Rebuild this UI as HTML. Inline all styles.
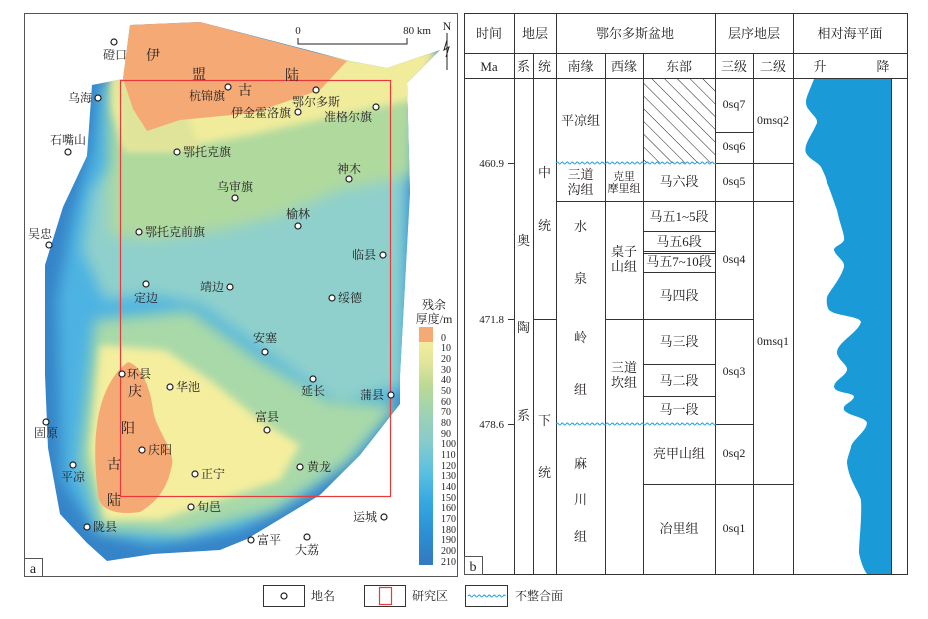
<!DOCTYPE html>
<html><head><meta charset="utf-8"><style>
html,body{margin:0;padding:0;background:#fff;width:928px;height:619px;overflow:hidden}
svg{display:block}
text{font-family:"Liberation Serif","Noto Serif CJK SC",serif;fill:#231f20}
</style></head><body>
<svg width="928" height="619" viewBox="0 0 928 619" xmlns="http://www.w3.org/2000/svg">
<defs>
<filter id="bl" x="-20%" y="-20%" width="140%" height="140%"><feGaussianBlur stdDeviation="7"/></filter>
<filter id="bl2" x="-20%" y="-20%" width="140%" height="140%"><feGaussianBlur stdDeviation="4"/></filter>
<clipPath id="outer"><path d="M92,85 L123,79 L130,25 L200,22 L350,61 L387,68 L440,50 L407,83 L410,192 L400,375 L400,404 L360,455 L320,495 L247,539 L220,550 L153,554 L107,561 L87,543 L60,514 L48,448 L45,375 L45,265 L63,207 L87,156 Z"/></clipPath>
<pattern id="hatch" width="9" height="9" patternUnits="userSpaceOnUse" patternTransform="rotate(-45)"><line x1="0" y1="0" x2="0" y2="9" stroke="#231f20" stroke-width="1"/></pattern>
<linearGradient id="cb" x1="0" y1="0" x2="0" y2="1">
<stop offset="0" stop-color="#f4ee9c"/><stop offset="0.1" stop-color="#dfe49a"/><stop offset="0.2" stop-color="#b8da95"/><stop offset="0.32" stop-color="#9fd2b3"/><stop offset="0.45" stop-color="#86cbcb"/><stop offset="0.58" stop-color="#5cc0e0"/><stop offset="0.72" stop-color="#35a8e0"/><stop offset="0.86" stop-color="#2d8fd2"/><stop offset="1" stop-color="#3478c0"/></linearGradient>
</defs>

<!-- Map frame -->
<rect x="24.5" y="13.5" width="433" height="563" fill="#fff" stroke="#555" stroke-width="1"/>
<g clip-path="url(#outer)">
<rect x="20" y="10" width="440" height="570" fill="#3584c8"/>
<path filter="url(#bl)" d="M100,85 L408,80 L405,385 L360,450 L305,492 L240,530 L150,545 L95,530 L62,480 L57,300 L72,220 L92,150 Z" fill="#4db3e2"/>
<path filter="url(#bl)" d="M108,170 L405,160 L402,385 L340,405 L270,355 L200,305 L150,295 L105,300 L82,250 L92,190 Z" fill="#8fd0cc"/>
<path filter="url(#bl)" d="M95,320 L190,310 L260,360 L330,400 L398,405 L345,465 L275,510 L180,535 L100,530 L80,460 Z" fill="#a9d9a8"/>
<path filter="url(#bl)" d="M108,78 L420,60 L412,175 L340,190 L280,215 L220,230 L150,240 L110,235 Z" fill="#b0d99e"/>
<path filter="url(#bl2)" d="M112,70 L360,55 L440,48 L412,100 L340,115 L250,135 L170,150 L125,150 L112,110 Z" fill="#f1ec9c"/>
<path filter="url(#bl2)" d="M100,345 L165,350 L210,380 L260,420 L300,445 L280,480 L220,500 L160,520 L105,520 L90,450 Z" fill="#f4ee9e"/>
<path filter="url(#bl2)" d="M112,60 L170,60 L200,150 L125,150 Z" fill="#dfe49a"/>
</g>
<path d="M130,25 L200,22 L347,61 L320,90 L253,113 L180,120 L147,131 L133,109 L123,79 Z" fill="#f5aa75"/>
<path d="M128,362 C140,365 150,385 153,410 C156,430 175,450 172,465 C168,485 160,500 140,512 C120,515 100,512 98,495 C95,470 94,445 97,425 C100,400 110,375 128,362 Z" fill="#f5aa75"/>
<!-- study area -->
<rect x="120.5" y="80.5" width="270" height="416" fill="none" stroke="#e8393b" stroke-width="1.2"/>
<!-- scale bar -->
<path d="M298,38 L298,44 L407,44 L407,38" fill="none" stroke="#231f20" stroke-width="1"/>
<text x="298" y="34" font-size="11" text-anchor="middle">0</text>
<text x="417" y="34" font-size="11" text-anchor="middle">80 km</text>
<text x="447" y="30" font-size="12" text-anchor="middle">N</text>
<path d="M447,33 L447,70 M447,40 L444,50 L449,47 L446,57" fill="none" stroke="#231f20" stroke-width="1"/>
<!-- colorbar -->
<rect x="419" y="327" width="14" height="15" fill="#f5aa75"/>
<rect x="419" y="342" width="14" height="223" fill="url(#cb)"/>
<text x="434" y="309" font-size="12" text-anchor="middle">残余</text>
<text x="434" y="323" font-size="12" text-anchor="middle">厚度/m</text>
<g font-size="10">
<text x="441" y="341">0</text><text x="441" y="351">10</text><text x="441" y="362">20</text><text x="441" y="373">30</text><text x="441" y="383">40</text><text x="441" y="394">50</text><text x="441" y="405">60</text><text x="441" y="415">70</text><text x="441" y="426">80</text><text x="441" y="437">90</text><text x="441" y="447">100</text><text x="441" y="458">110</text><text x="441" y="469">120</text><text x="441" y="479">130</text><text x="441" y="490">140</text><text x="441" y="501">150</text><text x="441" y="511">160</text><text x="441" y="522">170</text><text x="441" y="533">180</text><text x="441" y="543">190</text><text x="441" y="554">200</text><text x="441" y="565">210</text>
</g>
<!-- place markers -->
<g fill="#fff" stroke="#231f20" stroke-width="1.2">
<circle cx="114" cy="42" r="3"/><circle cx="228" cy="87" r="3"/><circle cx="316" cy="90" r="3"/><circle cx="298" cy="112" r="3"/><circle cx="376" cy="107" r="3"/><circle cx="98" cy="98" r="3"/><circle cx="68" cy="152" r="3"/><circle cx="177" cy="152" r="3"/><circle cx="349" cy="179" r="3"/><circle cx="235" cy="198" r="3"/><circle cx="298" cy="226" r="3"/><circle cx="139" cy="232" r="3"/><circle cx="49" cy="245" r="3"/><circle cx="383" cy="255" r="3"/><circle cx="146" cy="284" r="3"/><circle cx="230" cy="287" r="3"/><circle cx="332" cy="298" r="3"/><circle cx="265" cy="352" r="3"/><circle cx="122" cy="374" r="3"/><circle cx="170" cy="387" r="3"/><circle cx="313" cy="379" r="3"/><circle cx="391" cy="395" r="3"/><circle cx="267" cy="430" r="3"/><circle cx="46" cy="422" r="3"/><circle cx="142" cy="450" r="3"/><circle cx="73" cy="465" r="3"/><circle cx="195" cy="474" r="3"/><circle cx="300" cy="467" r="3"/><circle cx="191" cy="507" r="3"/><circle cx="384" cy="517" r="3"/><circle cx="87" cy="527" r="3"/><circle cx="251" cy="540" r="3"/><circle cx="307" cy="537" r="3"/>
</g>
<g font-size="12">
<text x="115" y="59" text-anchor="middle">磴口</text>
<text x="207" y="100" text-anchor="middle">杭锦旗</text>
<text x="316" y="106" text-anchor="middle">鄂尔多斯</text>
<text x="291" y="117" text-anchor="end">伊金霍洛旗</text>
<text x="348" y="121" text-anchor="middle">准格尔旗</text>
<text x="92" y="102" text-anchor="end">乌海</text>
<text x="68" y="144" text-anchor="middle">石嘴山</text>
<text x="183" y="156">鄂托克旗</text>
<text x="349" y="173" text-anchor="middle">神木</text>
<text x="235" y="191" text-anchor="middle">乌审旗</text>
<text x="298" y="218" text-anchor="middle">榆林</text>
<text x="145" y="236">鄂托克前旗</text>
<text x="40" y="238" text-anchor="middle">吴忠</text>
<text x="376" y="259" text-anchor="end">临县</text>
<text x="146" y="302" text-anchor="middle">定边</text>
<text x="224" y="291" text-anchor="end">靖边</text>
<text x="338" y="302">绥德</text>
<text x="265" y="342" text-anchor="middle">安塞</text>
<text x="127" y="378">环县</text>
<text x="176" y="391">华池</text>
<text x="313" y="395" text-anchor="middle">延长</text>
<text x="384" y="399" text-anchor="end">蒲县</text>
<text x="267" y="421" text-anchor="middle">富县</text>
<text x="46" y="437" text-anchor="middle">固原</text>
<text x="148" y="454">庆阳</text>
<text x="73" y="481" text-anchor="middle">平凉</text>
<text x="201" y="478">正宁</text>
<text x="307" y="471">黄龙</text>
<text x="197" y="511">旬邑</text>
<text x="377" y="521" text-anchor="end">运城</text>
<text x="93" y="531">陇县</text>
<text x="257" y="544">富平</text>
<text x="307" y="554" text-anchor="middle">大荔</text>
</g>
<g font-size="14">
<text x="153" y="60" text-anchor="middle">伊</text>
<text x="199" y="79" text-anchor="middle">盟</text>
<text x="245" y="95" text-anchor="middle">古</text>
<text x="292" y="80" text-anchor="middle">陆</text>
<text x="135" y="396" text-anchor="middle">庆</text>
<text x="128" y="433" text-anchor="middle">阳</text>
<text x="114" y="469" text-anchor="middle">古</text>
<text x="114" y="505" text-anchor="middle">陆</text>
</g>
<rect x="24.5" y="558.5" width="18" height="18" fill="#fff" stroke="#555"/>
<text x="33" y="573" font-size="14" text-anchor="middle">a</text>

<!-- Table b -->
<g stroke="#333" stroke-width="1" fill="none">
<rect x="464.5" y="13.5" width="443" height="561"/>
<line x1="464" y1="53.5" x2="908" y2="53.5"/>
<line x1="464" y1="78.5" x2="908" y2="78.5"/>
<line x1="514.5" y1="13" x2="514.5" y2="574"/>
<line x1="533.5" y1="53" x2="533.5" y2="574"/>
<line x1="556.5" y1="13" x2="556.5" y2="574"/>
<line x1="605.5" y1="53" x2="605.5" y2="574"/>
<line x1="643.5" y1="53" x2="643.5" y2="574"/>
<line x1="715.5" y1="13" x2="715.5" y2="574"/>
<line x1="753.5" y1="53" x2="753.5" y2="574"/>
<line x1="793.5" y1="13" x2="793.5" y2="574"/>
<line x1="556" y1="201.5" x2="793" y2="201.5"/>
<line x1="533" y1="319.5" x2="556" y2="319.5"/>
<line x1="605" y1="319.5" x2="753" y2="319.5"/>
<line x1="643" y1="231.5" x2="715" y2="231.5"/>
<line x1="643" y1="251.5" x2="715" y2="251.5"/>
<line x1="643" y1="253.5" x2="715" y2="253.5"/>
<line x1="643" y1="272.5" x2="715" y2="272.5"/>
<line x1="643" y1="364.5" x2="715" y2="364.5"/>
<line x1="643" y1="396.5" x2="715" y2="396.5"/>
<line x1="643" y1="484.5" x2="793" y2="484.5"/>
<line x1="715" y1="132.5" x2="753" y2="132.5"/>
<line x1="715" y1="163.5" x2="793" y2="163.5"/>
<line x1="715" y1="424.5" x2="753" y2="424.5"/>
<line x1="508" y1="163.5" x2="514" y2="163.5"/>
<line x1="508" y1="319.5" x2="514" y2="319.5"/>
<line x1="508" y1="424.5" x2="514" y2="424.5"/>
</g>
<rect x="644" y="79" width="71" height="84" fill="url(#hatch)"/>
<!-- wavy unconformities -->
<path d="M556,163 q1.25,-2 2.5,0 t2.5,0 t2.5,0 t2.5,0 t2.5,0 t2.5,0 t2.5,0 t2.5,0 t2.5,0 t2.5,0 t2.5,0 t2.5,0 t2.5,0 t2.5,0 t2.5,0 t2.5,0 t2.5,0 t2.5,0 t2.5,0 t2.5,0 t2.5,0 t2.5,0 t2.5,0 t2.5,0 t2.5,0 t2.5,0 t2.5,0 t2.5,0 t2.5,0 t2.5,0 t2.5,0 t2.5,0 t2.5,0 t2.5,0 t2.5,0 t2.5,0 t2.5,0 t2.5,0 t2.5,0 t2.5,0 t2.5,0 t2.5,0 t2.5,0 t2.5,0 t2.5,0 t2.5,0 t2.5,0 t2.5,0 t2.5,0 t2.5,0 t2.5,0 t2.5,0 t2.5,0 t2.5,0 t2.5,0 t2.5,0 t2.5,0 t2.5,0 t2.5,0 t2.5,0 t2.5,0 t2.5,0 t2.5,0 t2.5,0" fill="none" stroke="#1a9ee0" stroke-width="1"/>
<path d="M556,424 q1.25,-2 2.5,0 t2.5,0 t2.5,0 t2.5,0 t2.5,0 t2.5,0 t2.5,0 t2.5,0 t2.5,0 t2.5,0 t2.5,0 t2.5,0 t2.5,0 t2.5,0 t2.5,0 t2.5,0 t2.5,0 t2.5,0 t2.5,0 t2.5,0 t2.5,0 t2.5,0 t2.5,0 t2.5,0 t2.5,0 t2.5,0 t2.5,0 t2.5,0 t2.5,0 t2.5,0 t2.5,0 t2.5,0 t2.5,0 t2.5,0 t2.5,0 t2.5,0 t2.5,0 t2.5,0 t2.5,0 t2.5,0 t2.5,0 t2.5,0 t2.5,0 t2.5,0 t2.5,0 t2.5,0 t2.5,0 t2.5,0 t2.5,0 t2.5,0 t2.5,0 t2.5,0 t2.5,0 t2.5,0 t2.5,0 t2.5,0 t2.5,0 t2.5,0 t2.5,0 t2.5,0 t2.5,0 t2.5,0 t2.5,0 t2.5,0" fill="none" stroke="#1a9ee0" stroke-width="1"/>
<!-- sea level curve -->
<path d="M814,79 C808,95 804,100 807,107 C812,115 818,118 817,123 C812,135 803,145 806,153 C810,160 818,162 821,167 C825,175 827,180 827,183 C832,195 835,205 837,210 C840,225 845,235 844,240 C842,245 834,246 834,250 C836,257 845,260 844,267 C840,280 830,290 827,297 C826,305 828,308 829,310 C835,316 860,316 861,322 C858,333 836,343 837,353 C838,360 848,365 847,370 C845,377 834,380 834,387 C836,394 854,392 854,397 C852,403 842,404 844,410 C848,416 866,417 867,423 C866,432 852,440 851,447 C849,455 847,458 847,463 C849,480 858,490 861,500 C862,520 859,540 859,553 C861,563 864,570 867,574 L891,574 L891,79 Z" fill="#1a9ad6"/>
<line x1="891.5" y1="78" x2="891.5" y2="574" stroke="#333"/>
<g font-size="13" text-anchor="middle">
<text x="489" y="38">时间</text><text x="535" y="38">地层</text><text x="635" y="38">鄂尔多斯盆地</text><text x="754" y="38">层序地层</text><text x="850" y="38">相对海平面</text>
<text x="489" y="71">Ma</text><text x="523.5" y="71">系</text><text x="544.5" y="71">统</text><text x="580.5" y="71">南缘</text><text x="624" y="71">西缘</text><text x="679" y="71">东部</text><text x="734" y="71">三级</text><text x="773" y="71">二级</text><text x="820" y="71">升</text><text x="883" y="71">降</text>
<text x="580.5" y="125">平凉组</text>
<text x="580.5" y="179">三道</text><text x="580.5" y="194">沟组</text>
<text x="580.5" y="231">水</text><text x="580.5" y="283">泉</text><text x="580.5" y="342">岭</text><text x="580.5" y="394">组</text>
<text x="580.5" y="468">麻</text><text x="580.5" y="504">川</text><text x="580.5" y="541">组</text>
<text x="624" y="256">桌子</text><text x="624" y="271">山组</text>
<text x="624" y="372">三道</text><text x="624" y="387">坎组</text>
<text x="679" y="186">马六段</text>
<text x="679" y="221">马五1~5段</text>
<text x="679" y="246">马五6段</text>
<text x="679" y="266">马五7~10段</text>
<text x="679" y="300">马四段</text>
<text x="679" y="346">马三段</text>
<text x="679" y="385">马二段</text>
<text x="679" y="414">马一段</text>
<text x="679" y="458">亮甲山组</text>
<text x="679" y="533">冶里组</text>
<text x="523.5" y="245">奥</text><text x="523.5" y="332">陶</text><text x="523.5" y="420">系</text>
<text x="544.5" y="177">中</text><text x="544.5" y="230">统</text><text x="544.5" y="425">下</text><text x="544.5" y="477">统</text>
</g>
<g font-size="11" text-anchor="middle">
<text x="624" y="180">克里</text><text x="624" y="192">摩里组</text>
</g>
<g font-size="12" text-anchor="middle">
<text x="734" y="108">0sq7</text><text x="734" y="150">0sq6</text><text x="734" y="185">0sq5</text><text x="734" y="263">0sq4</text><text x="734" y="375">0sq3</text><text x="734" y="457">0sq2</text><text x="734" y="532">0sq1</text>
<text x="773" y="124">0msq2</text><text x="773" y="345">0msq1</text>
</g>
<g font-size="11" text-anchor="end">
<text x="504" y="167">460.9</text><text x="504" y="323">471.8</text><text x="504" y="428">478.6</text>
</g>
<rect x="464.5" y="556.5" width="18" height="18" fill="#fff" stroke="#555"/>
<text x="473" y="571" font-size="14" text-anchor="middle">b</text>

<!-- bottom legend -->
<rect x="263.5" y="585.5" width="41" height="21" fill="#fff" stroke="#333"/>
<circle cx="284" cy="596" r="3" fill="#fff" stroke="#231f20" stroke-width="1.2"/>
<text x="311" y="600" font-size="12">地名</text>
<rect x="364.5" y="585.5" width="41" height="21" fill="#fff" stroke="#333"/>
<rect x="379.5" y="587.5" width="12" height="17" fill="none" stroke="#e8393b" stroke-width="1.2"/>
<text x="412" y="600" font-size="12">研究区</text>
<rect x="465.5" y="585.5" width="42" height="21" fill="#fff" stroke="#333"/>
<path d="M468,596 q1.25,-2 2.5,0 t2.5,0 t2.5,0 t2.5,0 t2.5,0 t2.5,0 t2.5,0 t2.5,0 t2.5,0 t2.5,0 t2.5,0 t2.5,0 t2.5,0 t2.5,0 t2.5,0" fill="none" stroke="#1a9ee0"/>
<text x="515" y="600" font-size="12">不整合面</text>
</svg>
</body></html>
